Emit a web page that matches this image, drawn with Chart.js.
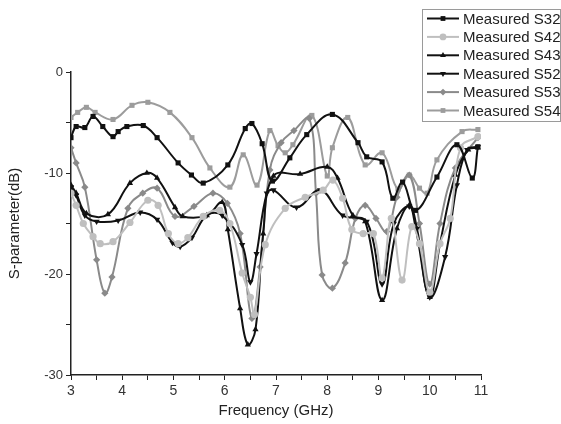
<!DOCTYPE html>
<html>
<head>
<meta charset="utf-8">
<script src="https://cdn.jsdelivr.net/npm/chart.js@4.4.0/dist/chart.umd.min.js"></script>
<style>
  html, body { margin: 0; padding: 0; background: #fff; }
  #wrap { width: 561px; height: 424px; position: relative; }
</style>
</head>
<body>
<div id="wrap"><canvas id="chartId" width="561" height="424"></canvas></div>
<script>
// values (GHz, dB)
var s32x = [3.0, 3.1, 3.27, 3.43, 3.62, 3.82, 3.92, 4.09, 4.41, 4.68, 5.09, 5.35, 5.58, 6.06, 6.4, 6.53, 6.73, 6.93, 7.27, 7.6, 8.1, 8.6, 8.77, 9.07, 9.28, 9.47, 9.72, 10.14, 10.53, 10.83, 10.94]
var s32y = [-6.5, -5.4, -5.5, -4.4, -5.4, -6.4, -5.9, -5.4, -5.3, -6.5, -9.0, -10.2, -11.0, -9.2, -5.6, -5.1, -7.1, -10.8, -8.5, -6.2, -4.2, -7.0, -8.4, -8.9, -12.5, -10.9, -13.7, -10.4, -7.2, -10.5, -7.4]

var s42x = [3.0, 3.1, 3.24, 3.43, 3.57, 3.82, 4.15, 4.5, 4.7, 4.9, 5.09, 5.28, 5.58, 5.9, 6.1, 6.34, 6.5, 6.58, 6.79, 7.18, 7.57, 7.92, 8.11, 8.3, 8.48, 8.7, 8.9, 9.07, 9.25, 9.46, 9.65, 9.8, 10.0, 10.2, 10.4, 10.6, 10.94]
var s42y = [-12.0, -13.2, -15.0, -16.3, -17.0, -16.8, -14.9, -12.7, -13.2, -16.0, -17.0, -16.4, -14.3, -13.7, -15.0, -19.9, -22.3, -24.0, -17.1, -13.5, -12.4, -11.7, -10.7, -12.5, -15.6, -16.0, -16.0, -20.4, -14.5, -20.6, -15.3, -17.0, -21.8, -17.0, -14.5, -7.5, -6.4]

var s43x = [3.0, 3.1, 3.3, 3.72, 4.15, 4.48, 4.68, 5.03, 5.18, 5.65, 5.95, 6.06, 6.3, 6.45, 6.6, 6.75, 6.95, 7.47, 8.0, 8.2, 8.5, 8.74, 9.07, 9.36, 9.6, 9.72, 10.0, 10.2, 10.5, 10.75, 10.94]
var s43y = [-11.2, -12.0, -14.0, -14.1, -11.0, -10.0, -10.5, -13.4, -14.3, -14.2, -12.9, -15.6, -23.4, -27.0, -25.5, -16.0, -10.3, -10.1, -9.4, -10.5, -14.2, -14.8, -22.6, -15.5, -13.2, -15.3, -22.3, -17.0, -10.2, -7.7, -7.5]

var s52x = [3.0, 3.1, 3.27, 3.5, 3.92, 4.35, 4.68, 4.98, 5.13, 5.36, 5.65, 5.95, 6.34, 6.5, 6.62, 6.82, 6.95, 7.4, 7.86, 8.3, 8.77, 9.07, 9.3, 9.6, 9.75, 10.0, 10.3, 10.53, 10.73, 10.94]
var s52y = [-11.4, -12.2, -14.2, -14.8, -14.7, -13.9, -14.6, -16.9, -17.3, -16.4, -14.2, -14.2, -17.1, -20.8, -18.0, -12.0, -11.7, -13.4, -11.7, -14.2, -14.8, -21.0, -15.0, -13.3, -15.5, -22.3, -18.3, -11.2, -7.7, -7.4]

var s53x = [3.0, 3.1, 3.27, 3.5, 3.66, 3.8, 4.11, 4.4, 4.68, 5.03, 5.4, 5.77, 6.05, 6.3, 6.53, 6.69, 6.88, 7.1, 7.35, 7.65, 7.78, 7.9, 8.1, 8.35, 8.55, 8.74, 8.95, 9.16, 9.36, 9.6, 9.8, 10.0, 10.2, 10.5, 10.94]
var s53y = [-7.5, -9.0, -11.4, -18.6, -21.9, -20.3, -13.5, -12.0, -11.5, -14.3, -13.3, -12.0, -13.0, -16.0, -24.4, -19.3, -9.7, -7.0, -5.8, -4.6, -12.0, -20.1, -21.4, -18.9, -14.5, -13.2, -14.5, -15.8, -12.4, -10.2, -15.0, -21.0, -15.0, -9.5, -6.5]

var s54x = [3.0, 3.13, 3.3, 3.47, 3.82, 4.19, 4.5, 4.93, 5.36, 5.71, 6.1, 6.36, 6.63, 6.88, 7.04, 7.18, 7.33, 7.7, 8.0, 8.1, 8.4, 8.74, 9.07, 9.38, 9.6, 9.8, 9.95, 10.14, 10.63, 10.94]
var s54y = [-4.5, -4.0, -3.5, -4.0, -4.7, -3.3, -3.0, -4.0, -6.5, -9.5, -11.4, -8.2, -11.2, -5.8, -7.3, -8.0, -7.2, -4.3, -10.3, -7.5, -4.5, -9.2, -8.0, -11.6, -10.2, -11.5, -12.0, -8.7, -5.9, -5.7]

var seriesNames = ['Measured S32', 'Measured S42', 'Measured S43', 'Measured S52', 'Measured S53', 'Measured S54']
var xTicks = [3, 4, 5, 6, 7, 8, 9, 10, 11]
var yTicks = [0, -10, -20, -30]

function pts(xs, ys) {
    return xs.map(function (x, i) { return { x: x, y: ys[i] } })
}

function makeSet(name, xs, ys, color, style, rot) {
    return {
        label: name,
        data: pts(xs, ys),
        showLine: true,
        borderColor: color,
        backgroundColor: color,
        borderWidth: 2,
        pointStyle: style,
        pointRotation: rot || 0,
        pointRadius: 3.6,
        pointBorderWidth: 0,
        tension: 0.4
    }
}

var sets = [
    makeSet(seriesNames[0], s32x, s32y, '#111111', 'rect'),
    makeSet(seriesNames[1], s42x, s42y, '#bfbfbf', 'circle'),
    makeSet(seriesNames[2], s43x, s43y, '#111111', 'triangle'),
    makeSet(seriesNames[3], s52x, s52y, '#111111', 'triangle', 180),
    makeSet(seriesNames[4], s53x, s53y, '#8a8a8a', 'rectRot'),
    makeSet(seriesNames[5], s54x, s54y, '#9c9c9c', 'rect')
]

// legend box in the top right corner
var boxLegend = {
    id: 'boxLegend',
    afterDraw: function (chart) {
        var ctx = chart.ctx
        ctx.save()
        ctx.strokeStyle = '#9a9a9a'
        ctx.lineWidth = 1
        ctx.strokeRect(422.5, 9.5, 138, 112)
        chart.data.datasets.forEach(function (ds, i) {
            var y = 18.5 + i * 18.4
            ctx.strokeStyle = ds.borderColor
            ctx.lineWidth = 2
            ctx.beginPath()
            ctx.moveTo(427, y)
            ctx.lineTo(459, y)
            ctx.stroke()
            ctx.fillStyle = ds.backgroundColor
            Chart.helpers.drawPoint(ctx, { pointStyle: ds.pointStyle, radius: 3.4, rotation: ds.pointRotation, borderWidth: 0 }, 443, y)
            ctx.fillStyle = '#222'
            ctx.font = '15px "Liberation Sans", Arial, sans-serif'
            ctx.textBaseline = 'middle'
            ctx.fillText(ds.label, 463, y + 1)
        })
        ctx.restore()
    }
}

var chrt = document.getElementById('chartId').getContext('2d')
var sChart = new Chart(chrt, {
    type: 'scatter',
    data: { datasets: sets },
    plugins: [boxLegend],
    options: {
        responsive: false,
        animation: false,
        layout: { padding: { top: 72, right: 80, left: 0, bottom: 0 } },
        plugins: {
            legend: { display: false },
            tooltip: { enabled: false }
        },
        scales: {
            x: {
                type: 'linear',
                min: 3,
                max: 11,
                afterFit: function (scale) { scale.height = 49 },
                ticks: {
                    stepSize: 0.5,
                    autoSkip: false,
                    maxRotation: 0,
                    color: '#333',
                    font: { family: '"Liberation Sans", Arial, sans-serif', size: 14 },
                    padding: 3,
                    callback: function (v) { return xTicks.indexOf(v) >= 0 ? String(v) : '' }
                },
                grid: { drawOnChartArea: false, tickLength: 5, color: '#222', lineWidth: 1 },
                border: { display: true, color: '#222', width: 1.5 },
                title: {
                    display: true,
                    text: 'Frequency (GHz)',
                    color: '#222',
                    font: { family: '"Liberation Sans", Arial, sans-serif', size: 15 },
                    padding: { top: 0, bottom: 4 }
                }
            },
            y: {
                min: -30,
                max: 0,
                afterFit: function (scale) { scale.width = 71 },
                ticks: {
                    stepSize: 5,
                    color: '#333',
                    font: { family: '"Liberation Sans", Arial, sans-serif', size: 13 },
                    padding: 3,
                    callback: function (v) { return yTicks.indexOf(v) >= 0 ? String(v) : '' }
                },
                grid: { drawOnChartArea: false, tickLength: 5, color: '#222', lineWidth: 1 },
                border: { display: true, color: '#222', width: 1.5 },
                title: {
                    display: true,
                    text: 'S-parameter(dB)',
                    color: '#222',
                    font: { family: '"Liberation Sans", Arial, sans-serif', size: 15 },
                    padding: { top: 6, bottom: 0 }
                }
            }
        }
    }
})
</script>
</body>
</html>
